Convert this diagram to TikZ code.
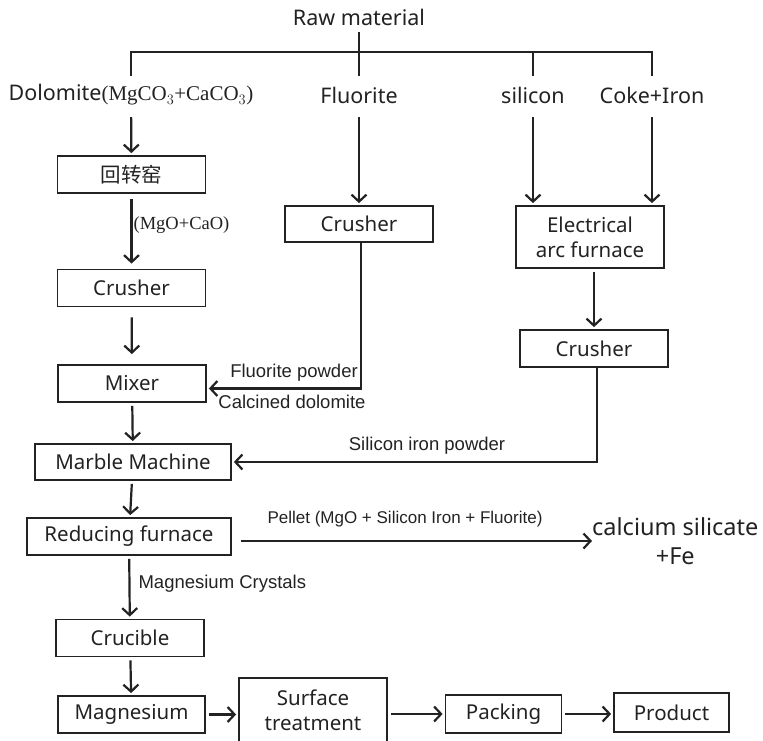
\documentclass[tikz,border=0pt]{standalone}
\usepackage{fontspec}
\setmainfont{Noto Sans}
\newfontfamily\labelfont{Liberation Sans}
\newfontfamily\chemfont{Liberation Serif}
\newfontfamily\cjkfont{Noto Sans CJK SC}
\usetikzlibrary{arrows.meta}
\definecolor{ink}{HTML}{222222}

\begin{document}
\begin{tikzpicture}[x=1pt,y=-1pt]
	\tikzstyle{box} = [draw=ink,line width=1.8pt,minimum width=148pt,minimum height=37pt,inner sep=0pt,align=center,text=ink,font=\fontsize{20.5}{25}\selectfont]
	\tikzstyle{src} = [minimum height=38pt,inner sep=0pt,text=ink,font=\fontsize{21.5}{24}\selectfont]
	\tikzstyle{tag} = [inner sep=1pt,text=ink,font=\labelfont\fontsize{18.5}{21}\selectfont]
	\tikzstyle{line} = [draw=ink,line width=2.2pt]
	\tikzstyle{edge} = [line,-{Straight Barb[length=7pt,width=15pt]},shorten <=3pt,shorten >=2pt]
	\useasboundingbox (0,0) rectangle (763,741);
	% raw material and its four branches
	\node[src,minimum height=30pt] (raw) at (359,17) {Raw material};
	\coordinate (bar) at (359,52);
	\node[src] (dolo) at (131,95) {Dolomite{\chemfont\fontsize{21}{24}\selectfont(MgCO$_3$+CaCO$_3$)}};
	\node[src] (fluor) at (359,95) {Fluorite};
	\node[src] (sil) at (533,95) {silicon};
	\node[src] (coke) at (652,95) {Coke+Iron};
	% boxes
	\node[box] (kiln) at (131.5,174.5) {\cjkfont 回转窑};
	\node[box] (cr1) at (131.5,288) {Crusher};
	\node[box] (mix) at (132,383.5) {Mixer};
	\node[box,minimum width=196pt,minimum height=36pt] (marble) at (133,462) {Marble Machine};
	\node[box,minimum width=204pt] (red) at (129,536.5) {Reducing furnace};
	\node[box] (cruc) at (130,638) {Crucible};
	\node[box,minimum width=147pt] (mg) at (131.5,714.5) {Magnesium};
	\node[box,minimum height=64pt] (surf) at (313,710) {Surface\\treatment};
	\node[box,minimum width=116pt,minimum height=38pt] (pack) at (503.5,714) {Packing};
	\node[box,minimum width=115pt,minimum height=39pt] (prod) at (671.5,712.5) {Product};
	\node[box,minimum height=36pt] (cr2) at (359,224) {Crusher};
	\node[box,minimum height=62pt] (eaf) at (590,237) {Electrical\\arc furnace};
	\node[box] (cr3) at (594,348.5) {Crusher};
	\node[src,align=center,font=\fontsize{23.5}{29}\selectfont,anchor=west] (calc) at (592,541) {calcium silicate\\+Fe};
	% tree from the top
	\draw[line] (raw) -- (fluor);
	\draw[line] (dolo.north) |- (bar) -| (coke.north);
	\draw[line] (sil.north) -- (sil.north |- bar);
	% flow
	\draw[edge] (dolo) -- (kiln);
	\draw[edge,shorten <=5pt,shorten >=5pt] (kiln) -- node[tag,right,pos=0.42,font=\chemfont\fontsize{18.5}{21}\selectfont] {(MgO+CaO)} (cr1);
	\draw[edge,shorten <=10pt,shorten >=10pt] (cr1) -- (mix);
	\draw[edge] (mix) -- (marble);
	\draw[edge] (marble) -- (red);
	\draw[edge] (red) -- node[tag,right,pos=0.45,xshift=7pt] {Magnesium Crystals} (cruc);
	\draw[edge] (cruc) -- (mg);
	\draw[edge] (mg.east) -- (mg.east -| surf.west);
	\draw[edge] (pack.west -| surf.east) -- (pack.west);
	\draw[edge] (pack.east) -- (pack.east -| prod.west);
	\draw[edge] (fluor) -- (cr2);
	\draw[edge] (sil.south) -- (sil.south |- eaf.north);
	\draw[edge] (coke.south) -- (coke.south |- eaf.north);
	\draw[edge] (eaf.south -| cr3.north) -- (cr3.north);
	\draw[edge,shorten <=0pt] ([xshift=2pt]cr2.south) |- ([yshift=-5pt]mix.east);
	\draw[edge,shorten <=0pt] ([xshift=3pt]cr3.south) |- (marble.east);
	\draw[edge,shorten <=9pt,shorten >=0pt] (red.east |- calc.west) -- (calc.west);
	% labels on the connectors
	\node[tag] (fpow) at (294,373) {Fluorite powder};
	\node[tag] (cdol) at (292,402) {Calcined dolomite};
	\node[tag] (sipow) at (427,446) {Silicon iron powder};
	\node[tag,font=\labelfont\fontsize{17}{20}\selectfont] (pel) at (405,519) {Pellet (MgO + Silicon Iron + Fluorite)};
\end{tikzpicture}
\end{document}
